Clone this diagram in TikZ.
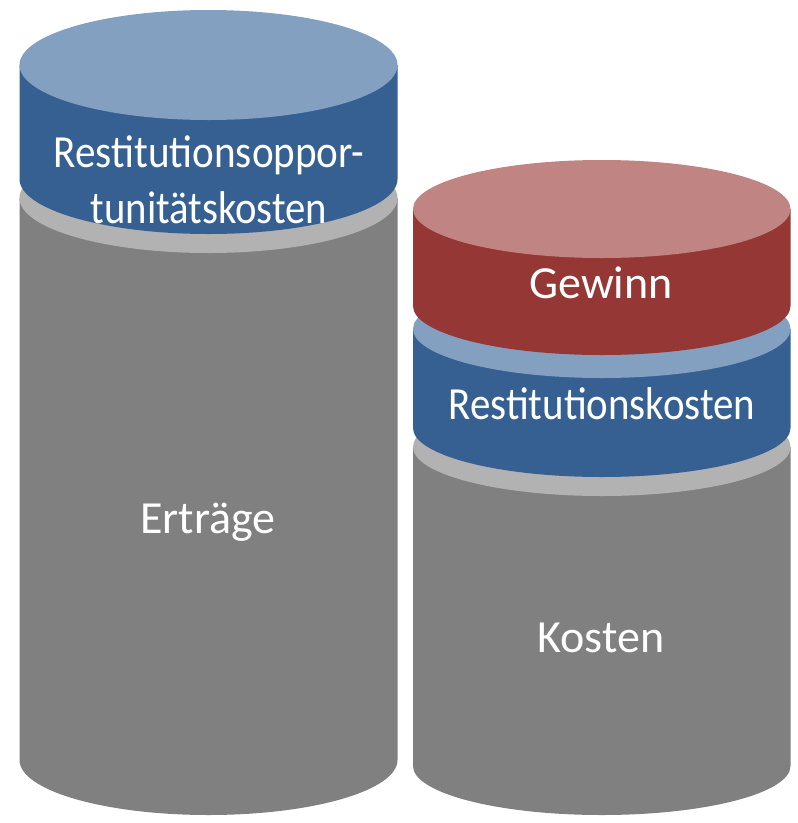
\documentclass[tikz,border=0pt]{standalone}
\usepackage{fontspec}
\setmainfont{Carlito}
\definecolor{grayBody}{RGB}{128,128,128}
\definecolor{grayTop}{RGB}{178,178,178}
\definecolor{blueBody}{RGB}{54,96,146}
\definecolor{blueTop}{RGB}{132,160,192}
\definecolor{redBody}{RGB}{149,55,53}
\definecolor{redTop}{RGB}{192,133,130}
% \drum{cx}{rx}{ry}{top centre y}{bottom centre y}{body colour}{top colour}
\newcommand{\drum}[7]{%
  \fill[#6] ({#1-#2},{-#4}) -- ({#1-#2},{-#5})
    arc[start angle=180,end angle=360,x radius=#2,y radius=#3]
    -- ({#1+#2},{-#4}) -- cycle;
  \fill[#7] (#1,{-#4}) ellipse[x radius=#2,y radius=#3];
}
\tikzset{
  lbl/.style={text=white,font=\fontsize{46}{56}\selectfont,inner sep=0pt,anchor=base}
}
\begin{document}
\begin{tikzpicture}[x=1pt,y=1pt]
\useasboundingbox (0,0) rectangle (798,-823);
% left stack
\drum{208.5}{189}{55}{198}{760}{grayBody}{grayTop}
\drum{208.5}{189}{55}{65}{179}{blueBody}{blueTop}
% right stack
\drum{601.75}{188.75}{49}{447}{766}{grayBody}{grayTop}
\drum{601.75}{188.75}{49}{329}{428}{blueBody}{blueTop}
\drum{601.75}{188.75}{49}{209}{306}{redBody}{redTop}
% labels
\node[lbl] (opp1) at (209,-167) {\scalebox{0.895}[1]{Restitutionsoppor-}};
\node[lbl] (opp2) at (209,-223) {\scalebox{0.885}[1]{tunitätskosten}};
\node[lbl] (ertr) at (208,-533) {Erträge};
\node[lbl] (gew) at (601,-298) {Gewinn};
\node[lbl] (rest) at (602,-419) {\scalebox{0.89}[1]{Restitutionskosten}};
\node[lbl] (kost) at (601,-652) {Kosten};
\end{tikzpicture}
\end{document}
